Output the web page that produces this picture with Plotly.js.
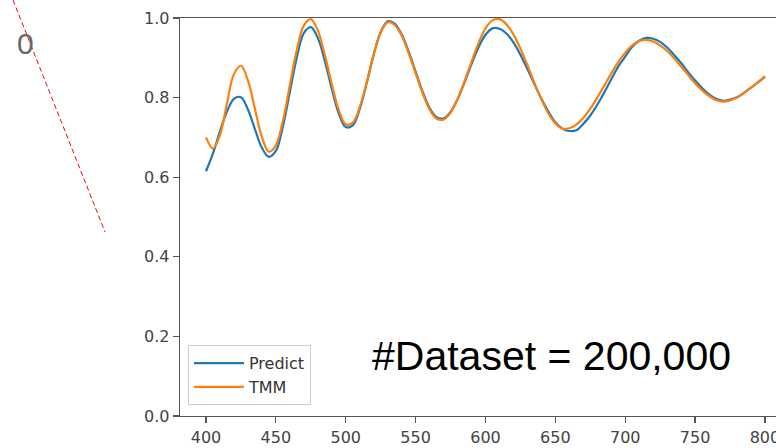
<!DOCTYPE html>
<html>
<head>
<meta charset="utf-8">
<script src="https://cdn.plot.ly/plotly-3.0.1.min.js"></script>
<style>html,body{margin:0;padding:0;background:#fff;}#chart{width:776px;height:448px;}</style>
</head>
<body>
<div id="chart"></div>
<script>
// Wavelength samples (nm)
const wavelength = [400,405,410,415,420,425,430,435,440,445,450,455,460,465,470,475,480,485,490,495,500,505,510,515,520,525,530,535,540,545,550,555,560,565,570,575,580,585,590,595,600,605,610,615,620,625,630,635,640,645,650,655,660,665,670,675,680,685,690,695,700,705,710,715,720,725,730,735,740,745,750,755,760,765,770,775,780,785,790,795,800];

const predict = [0.615,0.660,0.715,0.765,0.797,0.801,0.770,0.721,0.674,0.651,0.666,0.727,0.814,0.901,0.962,0.977,0.950,0.893,0.822,0.760,0.726,0.730,0.771,0.836,0.908,0.965,0.992,0.986,0.959,0.916,0.865,0.815,0.774,0.751,0.748,0.764,0.796,0.838,0.884,0.926,0.958,0.974,0.973,0.961,0.939,0.908,0.872,0.834,0.797,0.765,0.738,0.722,0.716,0.718,0.734,0.755,0.782,0.813,0.846,0.878,0.903,0.928,0.943,0.950,0.948,0.940,0.926,0.907,0.887,0.864,0.843,0.824,0.808,0.797,0.792,0.795,0.801,0.812,0.825,0.838,0.852];

const tmm = [0.700,0.672,0.706,0.785,0.859,0.880,0.843,0.772,0.701,0.664,0.680,0.741,0.831,0.920,0.981,0.997,0.969,0.908,0.834,0.769,0.733,0.737,0.776,0.839,0.908,0.963,0.989,0.983,0.956,0.912,0.861,0.811,0.770,0.747,0.745,0.762,0.796,0.841,0.890,0.937,0.974,0.994,0.997,0.984,0.959,0.923,0.882,0.837,0.796,0.760,0.735,0.722,0.723,0.732,0.749,0.772,0.800,0.830,0.861,0.889,0.913,0.931,0.942,0.945,0.941,0.931,0.917,0.899,0.878,0.857,0.836,0.818,0.804,0.794,0.790,0.793,0.800,0.812,0.825,0.839,0.854];

const seriesNames = ["Predict", "TMM"];
const xTicks = [400,450,500,550,600,650,700,750,800];
const yTicks = [0.0,0.2,0.4,0.6,0.8,1.0];
const yTickText = ["0.0","0.2","0.4","0.6","0.8","1.0"];
const annotationText = "#Dataset = 200,000";
const cornerText = "0";

const traces = [
  {x: wavelength, y: predict, name: seriesNames[0], type: "scatter", mode: "lines",
   line: {color: "#1f77b4", width: 2.2, shape: "spline", smoothing: 1}},
  {x: wavelength, y: tmm, name: seriesNames[1], type: "scatter", mode: "lines",
   line: {color: "#ff7f0e", width: 2.2, shape: "spline", smoothing: 1}}
];

const tickFont = {family: "DejaVu Sans, sans-serif", size: 16, color: "#444"};

const layout = {
  width: 776, height: 448,
  margin: {l: 180, r: 0, t: 18, b: 32, pad: 0},
  paper_bgcolor: "#fff", plot_bgcolor: "#fff",
  showlegend: true,
  xaxis: {
    range: [381.4, 807.9], tickvals: xTicks, ticks: "outside", ticklen: 6, tickwidth: 1.2,
    tickcolor: "#555", showline: true, linecolor: "#555", linewidth: 1.3, mirror: true,
    showgrid: false, zeroline: false, tickfont: tickFont, fixedrange: true,
    ticklabeloverflow: "allow"
  },
  yaxis: {
    range: [0, 1.0], tickvals: yTicks, ticktext: yTickText, ticks: "outside", ticklen: 6, tickwidth: 1.2,
    tickcolor: "#555", showline: true, linecolor: "#555", linewidth: 1.3,
    showgrid: false, zeroline: false, tickfont: tickFont, fixedrange: true
  },
  legend: {
    x: 0.0134, y: 0.178, xanchor: "left", yanchor: "top",
    bgcolor: "#fff", bordercolor: "#ccc", borderwidth: 1,
    font: {family: "DejaVu Sans, sans-serif", size: 16, color: "#333"},
    itemwidth: 50, tracegroupgap: 0
  },
  annotations: [
    {xref: "paper", yref: "paper", x: 0.3188, y: 0.1508, xanchor: "left", yanchor: "middle",
     text: annotationText, showarrow: false,
     font: {family: "Liberation Sans, Arial, sans-serif", size: 41, color: "#000"}},
    {xref: "paper", yref: "paper", x: -0.2584, y: 0.9347, xanchor: "center", yanchor: "middle",
     text: cornerText, showarrow: false,
     font: {family: "Liberation Sans, Arial, sans-serif", size: 30, color: "#666"}}
  ],
  shapes: [
    {type: "line", xref: "paper", yref: "paper", x0: -0.2802, y0: 1.0452, x1: -0.1258, y1: 0.4623,
     line: {color: "#ff0000", width: 1, dash: "5px,3px"}}
  ]
};

Plotly.newPlot("chart", traces, layout, {displayModeBar: false, staticPlot: true});
</script>
</body>
</html>
